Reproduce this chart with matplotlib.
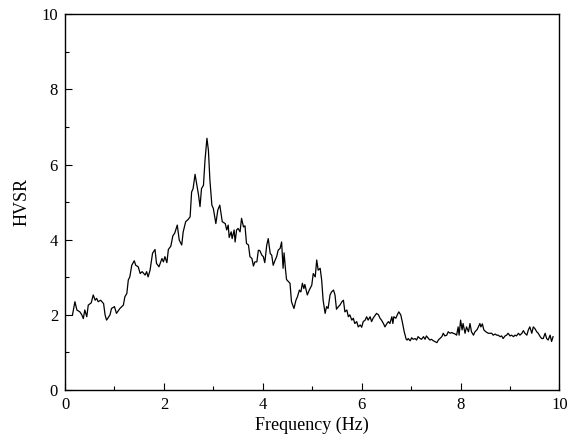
import matplotlib
matplotlib.use('Agg')
import matplotlib.pyplot as plt
from matplotlib.ticker import MultipleLocator

plt.rcParams['font.family'] = 'Liberation Serif'

# H/V spectral ratio picked off the measured curve
freq = [0.15, 0.20, 0.24, 0.30, 0.34, 0.37, 0.40, 0.44, 0.47, 0.53,
        0.57, 0.61, 0.64, 0.67, 0.72, 0.78, 0.81, 0.84, 0.91, 0.94,
        1.00, 1.04, 1.11, 1.18, 1.21, 1.25, 1.28, 1.31, 1.35, 1.40,
        1.43, 1.48, 1.52, 1.56, 1.62, 1.65, 1.68, 1.72, 1.77, 1.82,
        1.85, 1.90, 1.96, 1.99, 2.02, 2.06, 2.09, 2.14, 2.18, 2.22,
        2.27, 2.31, 2.36, 2.39, 2.44, 2.49, 2.53, 2.56, 2.59, 2.63,
        2.66, 2.70, 2.73, 2.76, 2.80, 2.83, 2.87, 2.90, 2.93, 2.97,
        3.00, 3.05, 3.09, 3.13, 3.18, 3.24, 3.27, 3.30, 3.32, 3.36,
        3.38, 3.42, 3.44, 3.47, 3.50, 3.54, 3.57, 3.61, 3.64, 3.67,
        3.71, 3.74, 3.78, 3.81, 3.84, 3.88, 3.91, 3.94, 3.98, 4.01,
        4.04, 4.08, 4.11, 4.15, 4.18, 4.21, 4.25, 4.28, 4.31, 4.35,
        4.38, 4.41, 4.43, 4.46, 4.48, 4.55, 4.58, 4.63, 4.67, 4.70,
        4.74, 4.77, 4.80, 4.83, 4.85, 4.90, 4.94, 4.99, 5.02, 5.06,
        5.09, 5.12, 5.16, 5.19, 5.22, 5.26, 5.29, 5.32, 5.36, 5.39,
        5.43, 5.46, 5.49, 5.53, 5.56, 5.60, 5.63, 5.66, 5.70, 5.73,
        5.76, 5.80, 5.83, 5.86, 5.90, 5.93, 5.97, 6.00, 6.03, 6.07,
        6.10, 6.13, 6.17, 6.20, 6.23, 6.30, 6.34, 6.37, 6.40, 6.44,
        6.47, 6.51, 6.54, 6.57, 6.61, 6.63, 6.65, 6.69, 6.72, 6.75,
        6.79, 6.82, 6.86, 6.90, 6.92, 6.94, 6.98, 7.01, 7.04, 7.08,
        7.11, 7.14, 7.18, 7.21, 7.25, 7.28, 7.31, 7.35, 7.38, 7.41,
        7.45, 7.48, 7.52, 7.55, 7.58, 7.62, 7.65, 7.68, 7.72, 7.75,
        7.79, 7.82, 7.85, 7.89, 7.92, 7.95, 7.97, 8.00, 8.03, 8.05,
        8.09, 8.12, 8.16, 8.19, 8.22, 8.26, 8.29, 8.33, 8.36, 8.39,
        8.41, 8.44, 8.47, 8.51, 8.56, 8.63, 8.66, 8.70, 8.73, 8.76,
        8.80, 8.83, 8.86, 8.90, 8.93, 8.96, 9.00, 9.03, 9.07, 9.10,
        9.13, 9.17, 9.20, 9.24, 9.27, 9.30, 9.34, 9.37, 9.40, 9.44,
        9.47, 9.50, 9.54, 9.57, 9.61, 9.64, 9.67, 9.71, 9.74, 9.77,
        9.81, 9.84, 9.87]
hvsr = [1.99, 2.35, 2.13, 2.08, 2.00, 1.90, 2.13, 1.95, 2.26, 2.32,
        2.53, 2.39, 2.44, 2.35, 2.39, 2.30, 2.00, 1.86, 2.00, 2.17,
        2.22, 2.04, 2.17, 2.26, 2.48, 2.57, 2.93, 3.01, 3.32, 3.44,
        3.32, 3.28, 3.10, 3.15, 3.06, 3.15, 3.01, 3.19, 3.64, 3.74,
        3.37, 3.28, 3.50, 3.41, 3.55, 3.39, 3.74, 3.83, 4.10, 4.18,
        4.39, 3.99, 3.86, 4.21, 4.48, 4.54, 4.61, 5.27, 5.36, 5.74,
        5.50, 5.19, 4.88, 5.36, 5.45, 6.10, 6.70, 6.38, 5.59, 4.92,
        4.83, 4.43, 4.79, 4.92, 4.48, 4.43, 4.26, 4.39, 4.06, 4.21,
        4.03, 4.26, 3.94, 4.26, 4.30, 4.21, 4.57, 4.34, 4.37, 3.90,
        3.86, 3.55, 3.50, 3.30, 3.41, 3.41, 3.72, 3.71, 3.59, 3.55,
        3.39, 3.86, 4.03, 3.63, 3.59, 3.32, 3.46, 3.55, 3.72, 3.77,
        3.94, 3.24, 3.65, 3.19, 2.94, 2.84, 2.35, 2.17, 2.39, 2.48,
        2.66, 2.61, 2.84, 2.70, 2.81, 2.53, 2.66, 2.79, 3.10, 3.01,
        3.46, 3.19, 3.24, 2.93, 2.39, 2.04, 2.22, 2.17, 2.53, 2.61,
        2.66, 2.53, 2.15, 2.22, 2.26, 2.35, 2.39, 2.08, 2.13, 1.95,
        2.00, 1.86, 1.91, 1.77, 1.82, 1.68, 1.73, 1.67, 1.82, 1.86,
        1.95, 1.86, 1.95, 1.82, 1.91, 2.04, 2.00, 1.91, 1.86, 1.77,
        1.68, 1.77, 1.82, 1.77, 1.95, 1.77, 1.95, 1.91, 2.00, 2.08,
        2.00, 1.82, 1.55, 1.35, 1.33, 1.37, 1.31, 1.39, 1.35, 1.37,
        1.33, 1.42, 1.37, 1.35, 1.42, 1.35, 1.44, 1.37, 1.33, 1.35,
        1.31, 1.29, 1.26, 1.33, 1.37, 1.42, 1.51, 1.44, 1.46, 1.55,
        1.51, 1.53, 1.51, 1.49, 1.46, 1.68, 1.46, 1.86, 1.60, 1.77,
        1.51, 1.68, 1.55, 1.77, 1.55, 1.46, 1.55, 1.60, 1.68, 1.77,
        1.68, 1.76, 1.60, 1.55, 1.51, 1.51, 1.46, 1.49, 1.46, 1.46,
        1.42, 1.44, 1.37, 1.44, 1.46, 1.51, 1.44, 1.46, 1.42, 1.46,
        1.44, 1.51, 1.46, 1.51, 1.58, 1.51, 1.46, 1.60, 1.68, 1.51,
        1.68, 1.64, 1.55, 1.51, 1.42, 1.37, 1.37, 1.51, 1.37, 1.33,
        1.46, 1.29, 1.42]

fig = plt.figure(figsize=(5.79, 4.44), dpi=100)
ax = fig.add_axes([0.1123, 0.1216, 0.8540, 0.8462])

ax.plot(freq, hvsr, color='black', linewidth=0.9)

ax.set_xlim(0, 10)
ax.set_ylim(0, 10)
ax.xaxis.set_major_locator(MultipleLocator(2))
ax.xaxis.set_minor_locator(MultipleLocator(1))
ax.yaxis.set_major_locator(MultipleLocator(2))
ax.yaxis.set_minor_locator(MultipleLocator(1))
ax.tick_params(which='both', direction='in', labelsize=12, width=0.8)
ax.tick_params(which='major', length=5, pad=5)
ax.tick_params(which='minor', length=3)
for s in ax.spines.values():
    s.set_linewidth(1.0)

ax.set_xlabel('Frequency (Hz)', fontsize=13, labelpad=3)
ax.set_ylabel('HVSR', fontsize=13, labelpad=8)

plt.savefig('out.png', dpi=100)
